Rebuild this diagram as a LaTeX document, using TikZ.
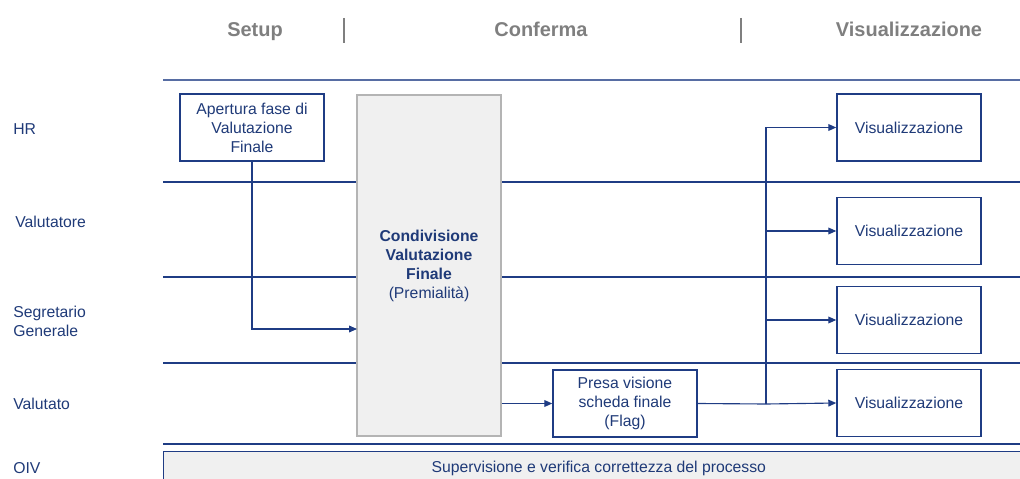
\documentclass[tikz,border=0pt]{standalone}
\usepackage{fontspec}
\setmainfont{Liberation Sans}
\usetikzlibrary{arrows.meta,positioning}

\definecolor{laneblue}{HTML}{1F3C84}
\definecolor{textblue}{HTML}{1F3A78}
\definecolor{boxgray}{HTML}{F0F0F0}
\definecolor{edgegray}{HTML}{B4B4B4}
\definecolor{headgray}{HTML}{7F7F7F}

\begin{document}
\begin{tikzpicture}[x=0.025cm,y=-0.025cm]
	\tikzstyle{phase} = [anchor=base, font=\fontsize{14.2}{17}\selectfont\bfseries, text=headgray]
	\tikzstyle{lane} = [anchor=west, align=left, inner sep=0pt, text=textblue,
		font=\fontsize{11.2}{13.5}\selectfont]
	\tikzstyle{task} = [
		draw=laneblue,
		line width=1pt,
		fill=white,
		text=textblue,
		align=center,
		font=\fontsize{11.2}{13.5}\selectfont,
		minimum width=3.6cm,
		minimum height=1.675cm
	]
	\tikzstyle{arr} = [draw=laneblue, line width=0.8pt, -{Triangle[length=2mm,width=1.7mm]}]

	\useasboundingbox (0,0) rectangle (1020,479);

	% phases
	\node (setup) [style=phase] at (255,37) {Setup};
	\node (conferma) [style=phase] at (541,37) {Conferma};
	\node (visual) [style=phase] at (909,37) {Visualizzazione};
	\draw [headgray, line width=1.5pt] (344,18) -- (344,43);
	\draw [headgray, line width=1.5pt] (741,18) -- (741,43);

	% lanes
	\node (hr) [style=lane] at (13,129) {HR};
	\node (valutatore) [style=lane] at (15,222) {Valutatore};
	\node (segretario) [style=lane] at (13,321) {Segretario\\Generale};
	\node (valutato) [style=lane] at (13,404) {Valutato};
	\node (oiv) [style=lane] at (13,468) {OIV};

	\draw [laneblue!75, line width=1pt] (163,80) -- (1020,80);
	\foreach \y in {182,277,363,444}
		\draw [laneblue, line width=0.8pt] (163,\y) -- (1020,\y);

	% boxes
	\node (apertura) [style=task] at (252,127.5) {Apertura fase di\\Valutazione\\Finale};
	\node (condivisione) [style=task, fill=boxgray, draw=edgegray, minimum height=8.525cm]
		at (429,265.5) {\textbf{Condivisione}\\\textbf{Valutazione}\\\textbf{Finale}\\(Premialità)};
	\node (presa) [style=task] at (625,403.5) {Presa visione\\scheda finale\\(Flag)};

	\node (vishr) [style=task] at (909,127.5) {Visualizzazione};
	\node (visvalutatore) [style=task] at (909,231) {Visualizzazione};
	\node (vissegretario) [style=task] at (909,320) {Visualizzazione};
	\node (visvalutato) [style=task] at (909,403) {Visualizzazione};

	\node (supervisione) [style=task, fill=boxgray, anchor=north west, minimum width=21.75cm,
		minimum height=0.85cm] at (163,451) {Supervisione e verifica correttezza del processo};

	% arrows
	\coordinate (condin) at (357,329);
	\coordinate (branch) at (766,404);
	\draw [style=arr] (apertura.south) |- (condin);
	\draw [style=arr] (condivisione.east |- presa.west) -- (presa.west);
	\draw [laneblue, line width=0.8pt] (presa.east) -- (branch);
	\draw [style=arr] (branch) |- (vishr.west);
	\draw [style=arr] (branch) |- (visvalutatore.west);
	\draw [style=arr] (branch) |- (vissegretario.west);
	\draw [style=arr] (branch) -- (visvalutato.west);

\end{tikzpicture}
\end{document}
